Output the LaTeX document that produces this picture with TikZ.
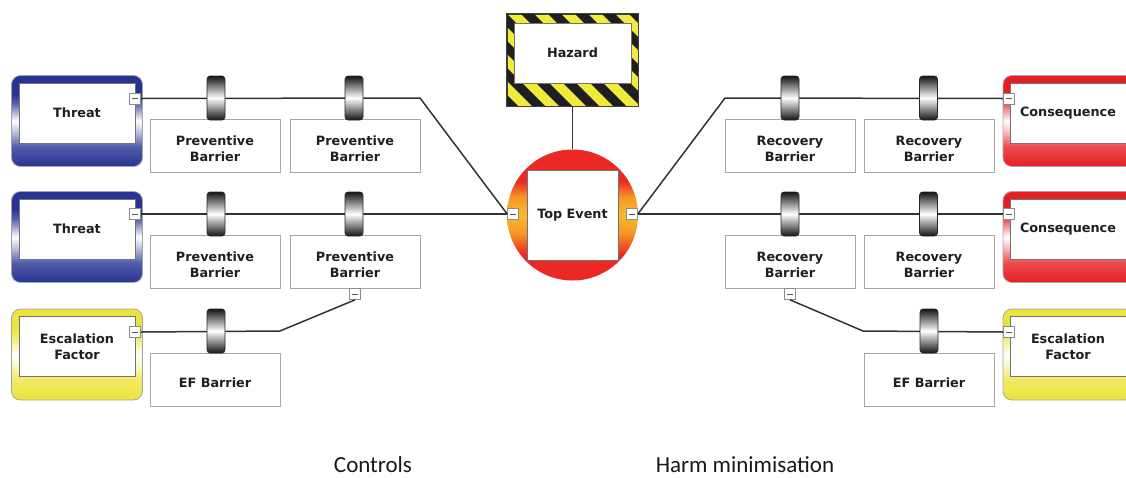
\documentclass[tikz,border=0pt]{standalone}
\usepackage{fontspec}
\setmainfont{Carlito}
\newfontfamily\lblfont{DejaVu Sans}
\definecolor{thblue}{RGB}{40,52,148}
\definecolor{cqred}{RGB}{230,30,36}
\definecolor{efyellow}{RGB}{236,228,60}
\definecolor{hzyellow}{RGB}{240,234,60}
\definecolor{teorange}{RGB}{245,150,35}
\definecolor{teamber}{RGB}{248,185,45}
\definecolor{tered}{RGB}{236,40,36}
\definecolor{linegray}{RGB}{50,50,50}
% frame shadings: coloured top, white band at mid height on the sides, coloured bottom
% (the path spans 25bp..75bp of the shading)
\pgfdeclareverticalshading{thshade}{100bp}{color(0bp)=(thblue); color(25bp)=(thblue); color(36bp)=(thblue!80!white);
  color(44bp)=(thblue!30!white); color(50bp)=(white); color(60bp)=(thblue!80!white); color(65bp)=(thblue); color(100bp)=(thblue)}
\pgfdeclareverticalshading{cqshade}{100bp}{color(0bp)=(cqred); color(25bp)=(cqred); color(36bp)=(cqred!80!white);
  color(44bp)=(cqred!30!white); color(50bp)=(white); color(60bp)=(cqred!80!white); color(65bp)=(cqred); color(100bp)=(cqred)}
\pgfdeclareverticalshading{efshade}{100bp}{color(0bp)=(efyellow); color(25bp)=(efyellow); color(36bp)=(efyellow!80!white);
  color(44bp)=(efyellow!30!white); color(50bp)=(white); color(60bp)=(efyellow!80!white); color(65bp)=(efyellow); color(100bp)=(efyellow)}
% top event disc: red cap and base, orange band across the middle
\pgfdeclareverticalshading{teshade}{100bp}{color(0bp)=(tered); color(35bp)=(tered); color(43bp)=(teorange);
  color(50bp)=(teamber); color(57bp)=(teorange); color(63bp)=(tered); color(100bp)=(tered)}
\tikzset{
  lbl/.style={font=\lblfont\bfseries\fontsize{12.8}{16}\selectfont, align=center, text=black!88},
  outerbox/.style={draw=black!35, line width=0.8, rounded corners=9, minimum width=131, minimum height=91, inner sep=0},
  threatouter/.style={outerbox, shading=thshade},
  cqouter/.style={outerbox, shading=cqshade},
  efouter/.style={outerbox, shading=efshade},
  innerbox/.style={lbl, draw=black!55, line width=0.8, fill=white, minimum width=116, minimum height=60, inner sep=0},
  barrierbox/.style={draw=black!35, line width=1, fill=white, minimum width=130, minimum height=53, inner sep=0},
  cyl/.style={draw=black!85, line width=0.6, rounded corners=3, minimum width=18, minimum height=44, inner sep=0,
    top color=black!92, bottom color=black!92, middle color=white},
  marker/.style={draw=black!45, line width=0.7, fill=white, minimum width=11, minimum height=11, inner sep=0,
    path picture={\draw[black!65, line width=0.8]
      ([xshift=-3pt]path picture bounding box.center) -- ([xshift=3pt]path picture bounding box.center);}},
  conn/.style={draw=linegray, line width=1.5},
  caption/.style={font=\fontsize{23}{26}\selectfont, text=black!90, inner sep=0}
}
% barrier box with its label set slightly below the box centre
\newcommand\barrierbox[4]{%
  \node[barrierbox] (#1) at (#2,#3) {};
  \node[lbl] (#1-text) at ([yshift=-3pt]#1.center) {#4};}
\begin{document}
\begin{tikzpicture}[x=1pt, y=-1pt]
\useasboundingbox (0,0) rectangle (1126,477);

% ---- threats and escalation factor (left) ----
\node[threatouter] (th1o) at (77,121) {};
\node[innerbox] (th1) at (77,113) {Threat};
\node[threatouter] (th2o) at (77,237) {};
\node[innerbox] (th2) at (77,229) {Threat};
\node[efouter] (ef1o) at (77,354.5) {};
\node[innerbox] (ef1) at (77,346.5) {Escalation\\Factor};

% ---- consequences and escalation factor (right) ----
\node[cqouter] (cq1o) at (1068.5,121) {};
\node[innerbox] (cq1) at (1068,113) {Consequence};
\node[cqouter] (cq2o) at (1068.5,237) {};
\node[innerbox] (cq2) at (1068,229) {Consequence};
\node[efouter] (ef2o) at (1068.5,354.5) {};
\node[innerbox] (ef2) at (1068,346.5) {Escalation\\Factor};

% ---- barrier boxes ----
\barrierbox{pb1}{215}{145.5}{Preventive\\Barrier}
\barrierbox{pb2}{355}{145.5}{Preventive\\Barrier}
\barrierbox{pb3}{215}{261.5}{Preventive\\Barrier}
\barrierbox{pb4}{355}{261.5}{Preventive\\Barrier}
\barrierbox{efb1}{215}{379.5}{EF Barrier}
\barrierbox{rb1}{790}{145.5}{Recovery\\Barrier}
\barrierbox{rb2}{929}{145.5}{Recovery\\Barrier}
\barrierbox{rb3}{790}{261.5}{Recovery\\Barrier}
\barrierbox{rb4}{929}{261.5}{Recovery\\Barrier}
\barrierbox{efb2}{929}{379.5}{EF Barrier}

% ---- hazard with striped frame ----
\node[draw=black!75, line width=0.8, fill=hzyellow, minimum width=131, minimum height=92, inner sep=0] (hazard) at (572.5,60) {};
\begin{scope}
  \clip (507,14) rectangle (638,106);
  \foreach \k in {-3,...,8}
    \fill[black!88] ({440+27*\k},14) -- ++(13,0) -- ++(92,92) -- ++(-13,0) -- cycle;
\end{scope}
\draw[black!75, line width=0.8] (hazard.north west) rectangle (hazard.south east);
\node[lbl, draw=black!55, line width=0.8, fill=white, minimum width=117, minimum height=60, inner sep=0] (hazin) at (572.5,53) {Hazard};

% ---- top event ----
\node[circle, minimum size=131, inner sep=0, shading=teshade] (te) at (572.5,215) {};
\node[lbl, draw=black!55, line width=0.8, fill=white, minimum width=91, minimum height=90, inner sep=0] (tein) at (572.5,215) {Top Event};

% ---- collapse markers ----
\node[marker] (thm1) at (135,98.5) {};
\node[marker] (thm2) at (135,214) {};
\node[marker] (efm1) at (135,332) {};
\node[marker] (cqm1) at (1009,98.5) {};
\node[marker] (cqm2) at (1009,214) {};
\node[marker] (efm2) at (1009,332) {};
\node[marker] (pbm) at (355,294) {};
\node[marker] (rbm) at (790,294) {};
\node[marker] (teL) at (513,214) {};
\node[marker] (teR) at (632,214) {};

% ---- connectors ----
\coordinate (bL1) at (420,98);
\coordinate (bL3) at (280,331);
\coordinate (bR1) at (725,98);
\coordinate (bR3) at (863,331);
\draw[conn] (thm1.east) -- (bL1) -- (teL.west);
\draw[conn] (thm2.east) -- (teL.west);
\draw[conn] (efm1.east) -- (bL3) -- (pbm.south);
\draw[conn] (teR.east) -- (bR1) -- (cqm1.west);
\draw[conn] (teR.east) -- (cqm2.west);
\draw[conn] (rbm.south) -- (bR3) -- (efm2.west);
\draw[conn] (hazard.south) -- (te.north);

% ---- barrier cylinders on the lines ----
\node[cyl] (c1) at (216,98) {};
\node[cyl] (c2) at (354,98) {};
\node[cyl] (c3) at (216,214) {};
\node[cyl] (c4) at (354,214) {};
\node[cyl] (c5) at (216,331) {};
\node[cyl] (c6) at (790,98) {};
\node[cyl] (c7) at (928.5,98) {};
\node[cyl] (c8) at (790,214) {};
\node[cyl] (c9) at (928.5,214) {};
\node[cyl] (c10) at (929,331) {};

% ---- captions ----
\node[caption] (ctl) at (373,465) {Controls};
\node[caption] (harm) at (745,465) {Harm minimisation};
\end{tikzpicture}
\end{document}
